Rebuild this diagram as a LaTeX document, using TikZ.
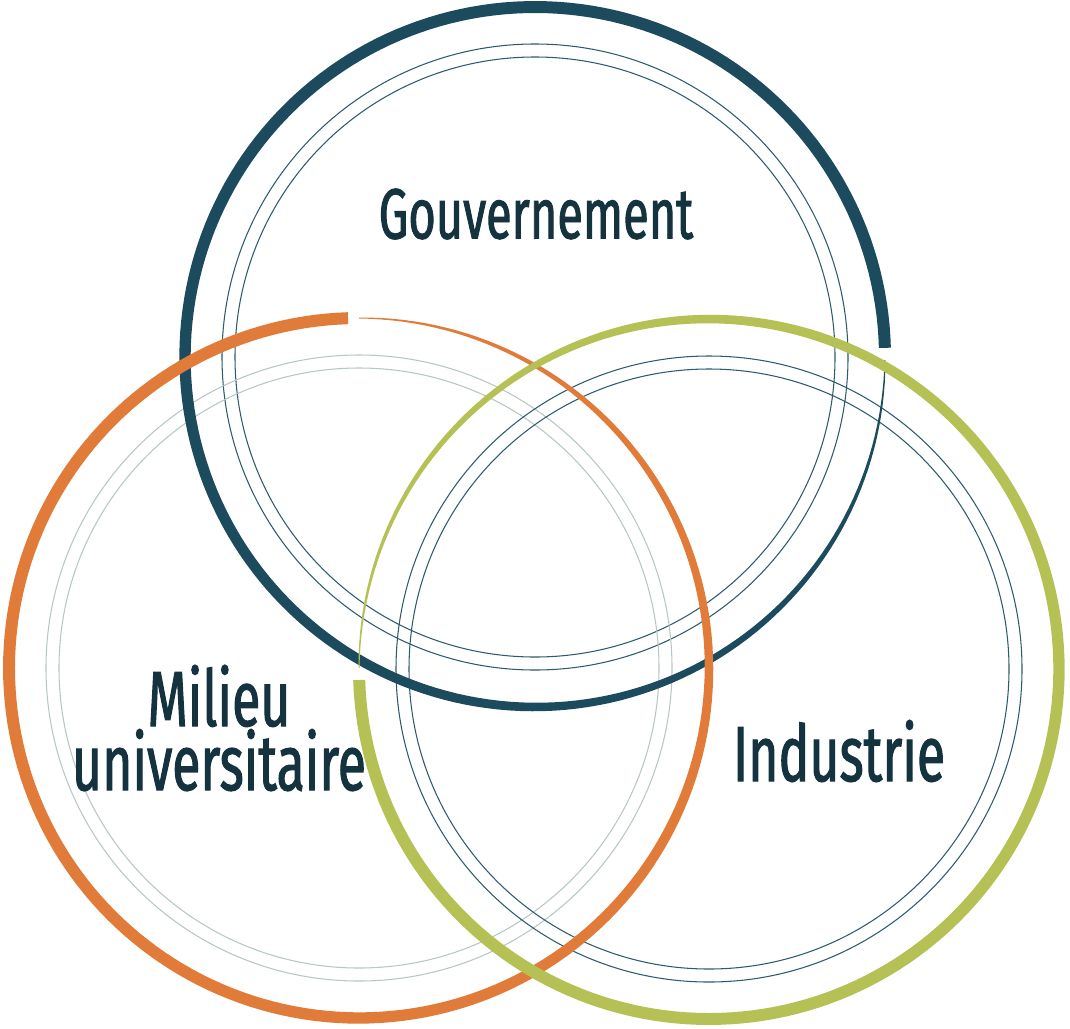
\documentclass[tikz,border=0pt]{standalone}
\usepackage{fontspec}
\setmainfont{Fira Sans}[FakeStretch=0.66, FakeBold=1.3]

\definecolor{govblue}{HTML}{1C4B5E}
\definecolor{govthin}{HTML}{2D5A6C}
\definecolor{univorange}{HTML}{E07B39}
\definecolor{univthin}{HTML}{B7C7C3}
\definecolor{indgreen}{HTML}{B5C154}
\definecolor{textblue}{HTML}{15333F}

\tikzset{
  declare function={bw(\f)=1+11*(1-(1-\f)^4);},
  thinring/.style={line width=0.6pt},
  ringtext/.style={text=textblue, align=center, inner sep=0pt,
    font=\fontsize{44.6}{36.5}\selectfont}
}

% Ring of radius \R whose stroke grows from start angle to end angle
\def\R{350}
\newcommand{\brushring}[4]{%
  \fill[#4, shift={(#1)}, variable=\t, samples=200]
    plot[domain=#2:#3] ({(\R+bw((\t-(#2))/((#3)-(#2)))/2)*cos(\t)},
                        {(\R+bw((\t-(#2))/((#3)-(#2)))/2)*sin(\t)})
    -- plot[domain=#3:#2] ({(\R-bw((\t-(#2))/((#3)-(#2)))/2)*cos(\t)},
                           {(\R-bw((\t-(#2))/((#3)-(#2)))/2)*sin(\t)})
    -- cycle;}

\begin{document}
\begin{tikzpicture}[x=0.02cm, y=-0.02cm]
\useasboundingbox (0,0) rectangle (1070,1028);

% Centres
\coordinate (Gov)  at (535,357);
\coordinate (Univ) at (359,668);
\coordinate (Ind)  at (709,669);

% Inner rings
\foreach \c/\col in {Gov/govthin, Univ/univthin, Ind/govthin}
  \foreach \r in {300,313}
    \draw[thinring, \col] (\c) circle[radius=\r];

% Outer rings
\brushring{Gov}{0.5}{358.5}{govblue}
\brushring{Univ}{-90}{268.2}{univorange}
\brushring{Ind}{180.2}{538.2}{indgreen}

% Labels
\node[ringtext, font=\fontsize{40.5}{36.5}\selectfont] (GovText) at (536,214) {Gouvernement};
\node[ringtext] (UnivText) at (219,728) {Milieu\\universitaire};
\node[ringtext] (IndText)  at (839,751) {Industrie};

\end{tikzpicture}
\end{document}
